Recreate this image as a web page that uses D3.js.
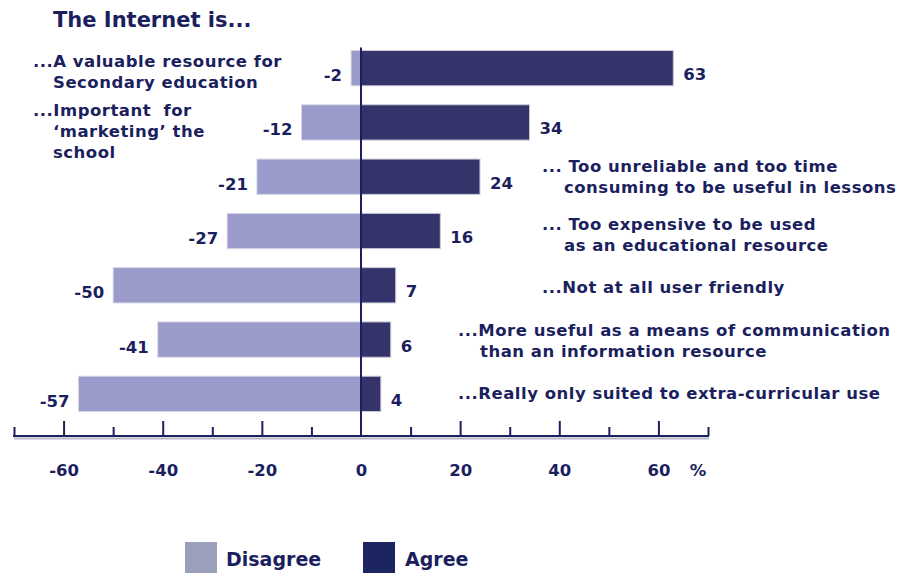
<!DOCTYPE html>
<html>
<head>
<meta charset="utf-8">
<script src="https://cdn.jsdelivr.net/npm/d3@7"></script>
<style>
  html, body { margin: 0; padding: 0; background: #ffffff; }
  svg { display: block; }
  text { font-family: "DejaVu Sans", Verdana, sans-serif; font-weight: bold; fill: #1b1f5e; }
</style>
</head>
<body>
<svg id="chart" width="913" height="573"></svg>
<script>
// ---- data ----
const title = "The Internet is...";
const categories = [
  ["...A valuable resource for", "Secondary education"],
  ["...Important  for", "\u2018marketing\u2019 the", "school"],
  ["... Too unreliable and too time", "consuming to be useful in lessons"],
  ["... Too expensive to be used", "as an educational resource"],
  ["...Not at all user friendly"],
  ["...More useful as a means of communication", "than an information resource"],
  ["...Really only suited to extra-curricular use"]
];
const disagree = [-2, -12, -21, -27, -50, -41, -57];
const agree = [63, 34, 24, 16, 7, 6, 4];
const majorTicks = [-60, -40, -20, 0, 20, 40, 60];
const minorTicks = [-70, -50, -30, -10, 10, 30, 50, 70];
const seriesNames = ["Disagree", "Agree"];
const unitLabel = "%";

// ---- layout (positions only) ----
const labelLayout = [
  {x: 33, indent: 20, dy: 3},
  {x: 33, indent: 20, dy: 9},
  {x: 542, indent: 22, dy: 0},
  {x: 542, indent: 22, dy: 3},
  {x: 542, indent: 22, dy: 2},
  {x: 458, indent: 22, dy: 1},
  {x: 458, indent: 22, dy: -1}
];
const colors = {
  disagree: "#9b9bcb", agree: "#35346a",
  legendDisagree: "#9a9fba", legendAgree: "#1c2462",
  ink: "#1b1f5e"
};

const svg = d3.select("#chart");
const axisY = 436;

const x = d3.scaleLinear().domain([-70, 70]).range([14, 708]);
const y = d3.scaleBand().domain(d3.range(categories.length)).range([41, 421])
  .paddingInner(0.35).paddingOuter(0.175);

// title
svg.append("text").attr("x", 53).attr("y", 27).attr("font-size", 21).text(title);

// bars
const rows = svg.append("g").selectAll("g").data(d3.range(categories.length)).join("g");
rows.append("rect")
  .attr("x", i => x(disagree[i]))
  .attr("y", i => y(i))
  .attr("width", i => x(0) - x(disagree[i]))
  .attr("height", y.bandwidth())
  .attr("fill", colors.disagree)
  .attr("stroke", "#d6d6e6").attr("stroke-width", 1);
rows.append("rect")
  .attr("x", x(0))
  .attr("y", i => y(i))
  .attr("width", i => x(agree[i]) - x(0))
  .attr("height", y.bandwidth())
  .attr("fill", colors.agree)
  .attr("stroke", "#c8c8d8").attr("stroke-width", 1);

// value labels
rows.append("text")
  .attr("x", i => x(disagree[i]) - 9)
  .attr("y", i => y(i) + y.bandwidth() / 2 + 13)
  .attr("text-anchor", "end").attr("font-size", 16.5)
  .text(i => String(disagree[i]));
rows.append("text")
  .attr("x", i => x(agree[i]) + 10)
  .attr("y", i => y(i) + y.bandwidth() / 2 + 12)
  .attr("font-size", 16.5)
  .text(i => String(agree[i]));

// category labels
rows.each(function(i) {
  const L = labelLayout[i];
  const lines = categories[i];
  const lh = 21;
  const cy = y(i) + y.bandwidth() / 2 + L.dy;
  const startY = cy - (lines.length - 1) * lh / 2 + 6;
  d3.select(this).selectAll("text.cat").data(lines).join("text")
    .attr("class", "cat")
    .attr("x", (d, k) => k === 0 ? L.x : L.x + L.indent)
    .attr("y", (d, k) => startY + k * lh)
    .attr("font-size", 16.5)
    .attr("letter-spacing", 0.5)
    .attr("xml:space", "preserve")
    .style("white-space", "pre")
    .text(d => d);
});

// zero line
svg.append("line")
  .attr("x1", x(0)).attr("x2", x(0))
  .attr("y1", y(0) - 3).attr("y2", axisY)
  .attr("stroke", colors.ink).attr("stroke-width", 2);

// axis shadow
svg.append("line").attr("x1", x(-70)).attr("x2", x(70) + 1)
  .attr("y1", axisY + 2.5).attr("y2", axisY + 2.5)
  .attr("stroke", "#b8b8c8").attr("stroke-width", 2);

// axis ticks (major + minor) pointing up
const gMaj = svg.append("g").attr("transform", `translate(0,${axisY})`)
  .call(d3.axisTop(x).tickValues(majorTicks.filter(t => t !== 0)).tickSize(15).tickFormat(""));
const gMin = svg.append("g").attr("transform", `translate(0,${axisY})`)
  .call(d3.axisTop(x).tickValues(minorTicks).tickSize(9).tickFormat(""));
[gMaj, gMin].forEach(g => {
  g.select(".domain").remove();
  g.selectAll(".tick line").attr("stroke", colors.ink).attr("stroke-width", 2);
});
svg.append("line").attr("x1", x(-70) - 1).attr("x2", x(70) + 1)
  .attr("y1", axisY).attr("y2", axisY)
  .attr("stroke", colors.ink).attr("stroke-width", 2);

// tick labels
const gLab = svg.append("g").attr("transform", `translate(0,${axisY})`)
  .call(d3.axisBottom(x).tickValues(majorTicks).tickSize(0).tickPadding(0).tickFormat(d => String(d)));
gLab.select(".domain").remove();
gLab.selectAll(".tick text")
  .attr("y", 40).attr("dy", null)
  .attr("font-size", 16.5)
  .style("font-family", "'DejaVu Sans', Verdana, sans-serif")
  .style("font-weight", "bold")
  .attr("fill", colors.ink);
svg.append("text").attr("x", 698).attr("y", axisY + 40)
  .attr("text-anchor", "middle").attr("font-size", 16.5).text(unitLabel);

// legend
const legend = svg.append("g");
const legendItems = [
  {name: seriesNames[0], color: colors.legendDisagree, x: 185, tx: 226},
  {name: seriesNames[1], color: colors.legendAgree, x: 363, tx: 405}
];
legend.selectAll("rect").data(legendItems).join("rect")
  .attr("x", d => d.x).attr("y", 542).attr("width", 32).attr("height", 32)
  .attr("fill", d => d.color);
legend.selectAll("text").data(legendItems).join("text")
  .attr("x", d => d.tx).attr("y", 566).attr("font-size", 19)
  .text(d => d.name);
</script>
</body>
</html>
